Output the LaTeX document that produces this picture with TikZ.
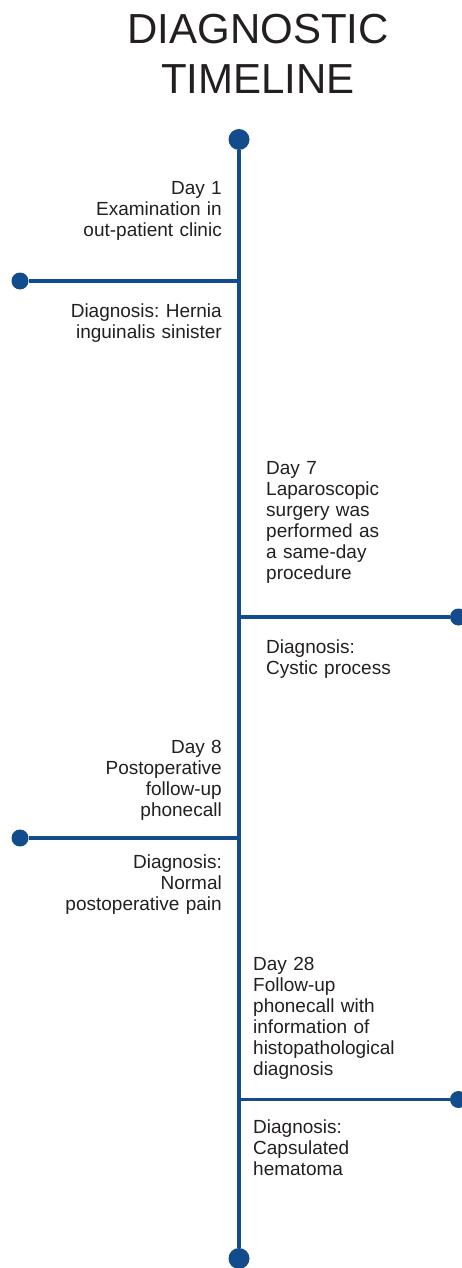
\documentclass[tikz,border=0pt]{standalone}
\usepackage{fontspec}
\setmainfont{Liberation Sans}
\usepackage{xcolor}
\usepackage{tikz}
\usetikzlibrary{positioning, calc}
\definecolor{lineblue}{RGB}{18,76,140}
\definecolor{inkgray}{RGB}{35,31,32}
\frenchspacing
\tikzset{
    title/.style={font=\fontsize{42}{50}\selectfont, text=inkgray, align=center, text width=400pt, inner sep=0pt},
    leftnote/.style={font=\fontsize{19}{21}\selectfont, text=inkgray, align=right, text width=210pt, inner sep=0pt, anchor=base east},
    rightnote/.style={font=\fontsize{19}{21}\selectfont, text=inkgray, align=left, text width=200pt, inner sep=0pt, anchor=base west},
    enddot/.style={circle, fill=lineblue, minimum size=21pt, inner sep=0pt},
    sidedot/.style={circle, fill=lineblue, minimum size=17pt, inner sep=0pt},
    spine/.style={draw=lineblue, line width=3.4pt},
    branch/.style={draw=lineblue, line width=3.2pt},
}
\begin{document}
\begin{tikzpicture}[x=1pt, y=-1pt]
    \useasboundingbox (0,0) rectangle (462,1268);

    % Title
    \node[title, anchor=base] (head) at (258,44) {DIAGNOSTIC\\TIMELINE};

    % Spine with end dots
    \node[enddot] (top) at (239,139.5) {};
    \node[enddot] (bottom) at (239,1258.5) {};
    \draw[spine] (top) -- (bottom);

    % Branch junctions and dots
    \coordinate (j1) at (239,281);
    \coordinate (j2) at (239,617);
    \coordinate (j3) at (239,838);
    \coordinate (j4) at (239,1099.5);
    \node[sidedot] (d1) at (20,281) {};
    \node[sidedot] (d2) at (458.5,617) {};
    \node[sidedot] (d3) at (20,838) {};
    \node[sidedot] (d4) at (458.5,1099.5) {};
    \draw[branch] (j1) -- (d1);
    \draw[branch] (j2) -- (d2);
    \draw[branch] (j3) -- (d3);
    \draw[branch] (j4) -- (d4);

    % Day 1
    \node[leftnote] (day1) at (222,194) {Day 1\\Examination in\\out-patient clinic};
    \node[leftnote] (diag1) at (222,317) {Diagnosis: Hernia\\inguinalis sinister};

    % Day 7
    \node[rightnote] (day7) at (266,474) {Day 7\\Laparoscopic\\surgery was\\performed as\\a same-day\\procedure};
    \node[rightnote] (diag7) at (266,653) {Diagnosis:\\Cystic process};

    % Day 8
    \node[leftnote] (day8) at (222,753) {Day 8\\Postoperative\\follow-up\\phonecall};
    \node[leftnote] (diag8) at (222,868) {Diagnosis:\\Normal\\postoperative pain};

    % Day 28
    \node[rightnote] (day28) at (253,970) {Day 28\\Follow-up\\phonecall with\\information of\\histopathological\\diagnosis};
    \node[rightnote] (diag28) at (253,1133) {Diagnosis:\\Capsulated\\hematoma};
\end{tikzpicture}
\end{document}
